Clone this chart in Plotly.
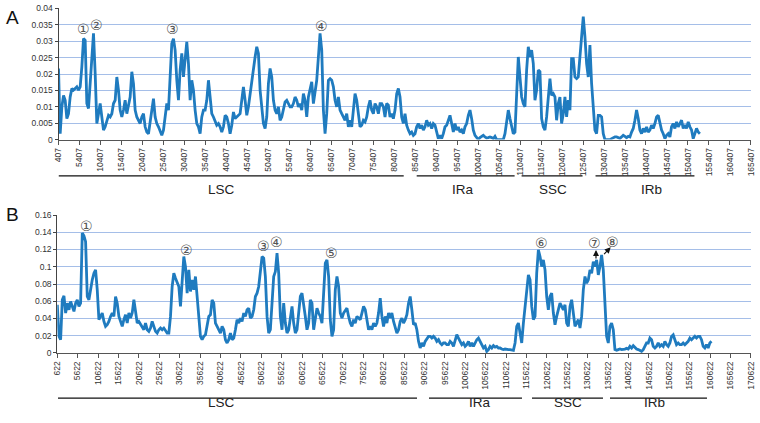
import plotly.graph_objects as go

# ---------------- data ----------------
# Panel A: nucleotide diversity (Pi), sliding windows starting at 407 bp
PI_A = [
0.0217,0.0018,0.0100,0.0135,0.0120,0.0064,0.0079,0.0130,0.0156,0.0151,
0.0156,0.0161,0.0151,0.0161,0.0222,0.0308,0.0303,0.0110,0.0095,0.0171,
0.0242,0.0324,0.0202,0.0049,0.0079,0.0110,0.0069,0.0029,0.0039,0.0059,
0.0074,0.0069,0.0079,0.0110,0.0120,0.0191,0.0151,0.0090,0.0069,0.0090,
0.0120,0.0079,0.0100,0.0130,0.0207,0.0171,0.0090,0.0069,0.0059,0.0049,
0.0069,0.0079,0.0039,0.0023,0.0018,0.0049,0.0090,0.0125,0.0069,0.0049,
0.0039,0.0023,0.0013,0.0029,0.0069,0.0110,0.0090,0.0181,0.0293,0.0308,
0.0273,0.0181,0.0120,0.0212,0.0263,0.0191,0.0237,0.0298,0.0232,0.0120,
0.0181,0.0151,0.0090,0.0049,0.0039,0.0018,0.0069,0.0090,0.0090,0.0120,
0.0181,0.0120,0.0079,0.0069,0.0059,0.0044,0.0049,0.0039,0.0023,0.0039,
0.0074,0.0069,0.0049,0.0018,0.0044,0.0084,0.0064,0.0069,0.0074,0.0079,
0.0120,0.0161,0.0120,0.0074,0.0100,0.0140,0.0171,0.0222,0.0252,0.0283,
0.0263,0.0151,0.0090,0.0049,0.0034,0.0069,0.0171,0.0217,0.0191,0.0120,
0.0090,0.0079,0.0100,0.0059,0.0069,0.0090,0.0115,0.0120,0.0110,0.0100,
0.0100,0.0110,0.0130,0.0120,0.0100,0.0110,0.0090,0.0140,0.0120,0.0069,
0.0130,0.0151,0.0176,0.0110,0.0151,0.0181,0.0252,0.0324,0.0273,0.0090,
0.0018,0.0079,0.0181,0.0186,0.0181,0.0161,0.0120,0.0100,0.0130,0.0090,
0.0079,0.0069,0.0059,0.0079,0.0039,0.0059,0.0039,0.0090,0.0140,0.0120,
0.0069,0.0039,0.0044,0.0059,0.0054,0.0069,0.0100,0.0120,0.0090,0.0079,
0.0110,0.0100,0.0079,0.0110,0.0110,0.0100,0.0069,0.0110,0.0105,0.0069,
0.0079,0.0064,0.0090,0.0140,0.0156,0.0130,0.0069,0.0049,0.0079,0.0044,
0.0029,0.0018,0.0023,0.0013,0.0018,0.0039,0.0049,0.0034,0.0044,0.0029,
0.0039,0.0059,0.0044,0.0049,0.0034,0.0049,0.0044,0.0023,0.0003,0.0013,
0.0003,0.0018,0.0039,0.0044,0.0059,0.0074,0.0049,0.0023,0.0049,0.0029,
0.0039,0.0023,0.0029,0.0018,0.0039,0.0049,0.0074,0.0090,0.0064,0.0029,
0.0013,0.0008,0.0000,0.0006,0.0010,0.0013,0.0008,0.0005,0.0006,0.0008,
0.0006,0.0003,0.0010,0.0000,0.0000,0.0000,0.0000,0.0000,0.0018,0.0049,
0.0090,0.0064,0.0039,0.0018,0.0023,0.0120,0.0252,0.0191,0.0130,0.0110,
0.0100,0.0212,0.0283,0.0252,0.0273,0.0232,0.0120,0.0151,0.0212,0.0207,
0.0064,0.0039,0.0029,0.0069,0.0120,0.0186,0.0135,0.0140,0.0130,0.0059,
0.0110,0.0130,0.0049,0.0079,0.0130,0.0069,0.0120,0.0090,0.0247,0.0247,
0.0191,0.0186,0.0191,0.0247,0.0303,0.0375,0.0314,0.0232,0.0191,0.0288,
0.0171,0.0090,0.0029,0.0018,0.0074,0.0074,0.0069,0.0018,0.0000,0.0000,
0.0000,0.0000,0.0003,0.0006,0.0008,0.0008,0.0006,0.0004,0.0008,0.0013,
0.0010,0.0006,0.0010,0.0008,0.0023,0.0034,0.0059,0.0090,0.0064,0.0029,
0.0018,0.0034,0.0023,0.0039,0.0023,0.0029,0.0044,0.0034,0.0049,0.0069,
0.0074,0.0049,0.0029,0.0018,0.0003,0.0013,0.0018,0.0008,0.0039,0.0049,
0.0034,0.0054,0.0039,0.0049,0.0059,0.0034,0.0044,0.0034,0.0054,0.0039,
0.0029,0.0003,0.0023,0.0034,0.0023,0.0018,
]
START_A, STEP_A = 407, 397

# Panel B: nucleotide diversity (Pi), sliding windows starting at 622 bp
PI_B = [
0.0559,0.0193,0.0154,0.0617,0.0663,0.0463,0.0578,0.0501,0.0598,0.0540,
0.0482,0.0578,0.0617,0.0540,0.0578,0.1390,0.1360,0.1290,0.0655,0.0617,
0.0752,0.0848,0.0925,0.0964,0.0732,0.0386,0.0424,0.0463,0.0366,0.0308,
0.0328,0.0366,0.0424,0.0463,0.0424,0.0655,0.0578,0.0424,0.0366,0.0308,
0.0386,0.0443,0.0347,0.0463,0.0405,0.0463,0.0617,0.0501,0.0347,0.0366,
0.0328,0.0308,0.0270,0.0347,0.0270,0.0251,0.0289,0.0366,0.0308,0.0251,
0.0231,0.0270,0.0289,0.0270,0.0289,0.0251,0.0231,0.0231,0.0424,0.0771,
0.0925,0.0867,0.0810,0.0771,0.0540,0.0887,0.1118,0.1002,0.0694,0.0964,
0.0713,0.0848,0.0732,0.0887,0.0655,0.0347,0.0193,0.0154,0.0193,0.0212,
0.0308,0.0424,0.0443,0.0617,0.0578,0.0347,0.0308,0.0270,0.0231,0.0308,
0.0270,0.0154,0.0116,0.0154,0.0231,0.0154,0.0173,0.0270,0.0386,0.0347,
0.0405,0.0366,0.0463,0.0424,0.0501,0.0520,0.0405,0.0424,0.0501,0.0655,
0.0694,0.0771,0.0964,0.1118,0.1099,0.0887,0.0424,0.0231,0.0270,0.0617,
0.0887,0.0944,0.1157,0.0925,0.0424,0.0270,0.0578,0.0347,0.0231,0.0270,
0.0424,0.0540,0.0347,0.0231,0.0270,0.0463,0.0655,0.0694,0.0578,0.0424,
0.0270,0.0347,0.0617,0.0578,0.0270,0.0424,0.0520,0.0463,0.0424,0.0347,
0.0732,0.1041,0.1079,0.0887,0.0386,0.0193,0.0270,0.0732,0.0887,0.0771,
0.0463,0.0405,0.0463,0.0501,0.0520,0.0424,0.0347,0.0308,0.0386,0.0347,
0.0424,0.0405,0.0386,0.0463,0.0540,0.0501,0.0366,0.0270,0.0308,0.0270,
0.0347,0.0308,0.0347,0.0463,0.0636,0.0424,0.0308,0.0424,0.0347,0.0463,
0.0405,0.0463,0.0366,0.0289,0.0231,0.0270,0.0366,0.0405,0.0347,0.0386,
0.0443,0.0578,0.0655,0.0501,0.0328,0.0347,0.0270,0.0135,0.0058,0.0116,
0.0077,0.0135,0.0173,0.0193,0.0193,0.0173,0.0193,0.0173,0.0135,0.0154,
0.0116,0.0096,0.0116,0.0116,0.0096,0.0096,0.0135,0.0116,0.0077,0.0135,
0.0212,0.0173,0.0135,0.0096,0.0116,0.0077,0.0096,0.0135,0.0077,0.0116,
0.0077,0.0116,0.0154,0.0173,0.0135,0.0096,0.0058,0.0077,0.0019,0.0039,
0.0077,0.0058,0.0085,0.0069,0.0077,0.0058,0.0058,0.0046,0.0039,0.0046,
0.0039,0.0039,0.0039,0.0039,0.0031,0.0116,0.0308,0.0347,0.0231,0.0116,
0.0347,0.0540,0.0694,0.0906,0.0848,0.0540,0.0386,0.0424,0.0925,0.1195,
0.1118,0.1002,0.1079,0.0964,0.0655,0.0501,0.0655,0.0694,0.0463,0.0328,
0.0424,0.0501,0.0578,0.0540,0.0501,0.0559,0.0347,0.0308,0.0540,0.0617,
0.0463,0.0308,0.0347,0.0386,0.0289,0.0424,0.0732,0.0887,0.0810,0.0848,
0.0964,0.0925,0.1060,0.1002,0.1079,0.0906,0.1002,0.1137,0.0964,0.0578,
0.0193,0.0116,0.0308,0.0347,0.0270,0.0039,0.0031,0.0039,0.0046,0.0039,
0.0039,0.0046,0.0054,0.0046,0.0077,0.0058,0.0085,0.0058,0.0046,0.0039,
0.0031,0.0019,0.0039,0.0077,0.0116,0.0116,0.0173,0.0154,0.0077,0.0058,
0.0077,0.0116,0.0077,0.0096,0.0077,0.0135,0.0096,0.0077,0.0116,0.0193,
0.0212,0.0154,0.0096,0.0116,0.0096,0.0096,0.0116,0.0096,0.0116,0.0135,
0.0173,0.0154,0.0173,0.0193,0.0173,0.0193,0.0193,0.0154,0.0077,0.0058,
0.0096,0.0058,0.0116,0.0135,
]
START_B, STEP_B = 622, 408

POS_A = [START_A + STEP_A * i for i in range(len(PI_A))]
POS_B = [START_B + STEP_B * i for i in range(len(PI_B))]

# axis ticks
XTICKS_A = list(range(407, 165408, 5000))
XTICKS_B = list(range(622, 170623, 5000))
YTICKS_A = [0, 0.005, 0.01, 0.015, 0.02, 0.025, 0.03, 0.035, 0.04]
YTEXT_A = ["0", "0.005", "0.01", "0.015", "0.02", "0.025", "0.03", "0.035", "0.04"]
YTICKS_B = [0, 0.02, 0.04, 0.06, 0.08, 0.1, 0.12, 0.14, 0.16]
YTEXT_B = ["0", "0.02", "0.04", "0.06", "0.08", "0.1", "0.12", "0.14", "0.16"]

# genome regions (bp spans) and label anchors
REGIONS = ["LSC", "IRa", "SSC", "IRb"]
REG_START_A = [407, 85764, 110764, 128383]
REG_END_A = [82669, 109097, 125288, 151955]
REG_LABEL_A = [39336, 96717, 118145, 141717]
REG_START_B = [794, 91725, 116970, 136088]
REG_END_B = [88784, 114519, 134372, 159862]
REG_LABEL_B = [40745, 104225, 125794, 147117]

# highly variable peaks (circled numbers)
PEAK_TXT_A = ["①", "②", "③", "④", "⑤"]
PEAK_X_A = [6478, 9574, 27669, 63145, 125526]
PEAK_Y_A = [0.0337, 0.0350, 0.0337, 0.0347, 0.0405]
PEAK_TXT_B = ["①", "②", "③", "④", "⑤", "⑥", "⑦", "⑧"]
PEAK_X_B = [7800, 32166, 51284, 54470, 67950, 119421, 132411, 136823]
PEAK_Y_B = [0.147, 0.1194, 0.124, 0.1287, 0.116, 0.1275, 0.1275, 0.1287]
# arrows for peaks 7 and 8 in B: (tail x, tail y, head x, head y)
ARROWS_B = [(132656, 0.1078, 132656, 0.1194), (134298, 0.1128, 136259, 0.1226)]

# ---------------- figure ----------------
LINE_COLOR = "#1f7bbf"
GRID = "#a5bee8"
FONT = "Liberation Sans, Arial, sans-serif"

fig = go.Figure()
fig.add_trace(go.Scatter(x=POS_A, y=PI_A, mode="lines", xaxis="x", yaxis="y",
                         line=dict(color=LINE_COLOR, width=2.8), showlegend=False))
fig.add_trace(go.Scatter(x=POS_B, y=PI_B, mode="lines", xaxis="x2", yaxis="y2",
                         line=dict(color=LINE_COLOR, width=2.8), showlegend=False))

def xax(domain, rng, ticks, anchor):
    return dict(domain=domain, range=rng, tickvals=ticks, ticktext=[str(t) for t in ticks],
                tickangle=-90, tickfont=dict(size=8.5, color="#333", family=FONT),
                showgrid=False, zeroline=False, showline=True, linecolor="#555", linewidth=1,
                ticks="outside", ticklen=4, tickcolor="#555", anchor=anchor, automargin=False)

def yax(domain, rng, ticks, text, anchor):
    return dict(domain=domain, range=rng, tickvals=ticks, ticktext=text,
                tickfont=dict(size=8.5, color="#333", family=FONT),
                showgrid=True, gridcolor=GRID, gridwidth=1.2, zeroline=False,
                showline=True, linecolor="#444", linewidth=1,
                ticks="outside", ticklen=3, tickcolor="#444", anchor=anchor, automargin=False)

fig.update_layout(
    width=760, height=423, margin=dict(l=0, r=0, t=0, b=0, autoexpand=False),
    paper_bgcolor="white", plot_bgcolor="white",
    xaxis=xax([0.077, 0.988], [407, 165407], XTICKS_A, "y"),
    yaxis=yax([0.670, 0.980], [0, 0.04], YTICKS_A, YTEXT_A, "x"),
    xaxis2=xax([0.0754, 0.988], [622, 170622], XTICKS_B, "y2"),
    yaxis2=yax([0.1655, 0.4917], [0, 0.16], YTICKS_B, YTEXT_B, "x2"),
)

shapes = []
annotations = []
for xs, xe, xl, name, ly, ty, xr in (
    [(REG_START_A[i], REG_END_A[i], REG_LABEL_A[i], REGIONS[i], 0.584, 0.551, "x") for i in range(4)]
    + [(REG_START_B[i], REG_END_B[i], REG_LABEL_B[i], REGIONS[i], 0.059, 0.026, "x2") for i in range(4)]
):
    shapes.append(dict(type="line", xref=xr, yref="paper", x0=xs, x1=xe, y0=ly, y1=ly,
                       line=dict(color="#111", width=1.3)))
    annotations.append(dict(x=xl, y=ty, xref=xr, yref="paper", text=name, showarrow=False,
                            font=dict(size=13.5, color="#222", family=FONT)))

for t, x, y in zip(PEAK_TXT_A, PEAK_X_A, PEAK_Y_A):
    annotations.append(dict(x=x, y=y, xref="x", yref="y", text=t, showarrow=False,
                            font=dict(size=14, color="#555", family="DejaVu Sans")))
for t, x, y in zip(PEAK_TXT_B, PEAK_X_B, PEAK_Y_B):
    annotations.append(dict(x=x, y=y, xref="x2", yref="y2", text=t, showarrow=False,
                            font=dict(size=14, color="#555", family="DejaVu Sans")))
for tx, ty_, hx, hy in ARROWS_B:
    annotations.append(dict(x=hx, y=hy, ax=tx, ay=ty_, xref="x2", yref="y2",
                            axref="x2", ayref="y2", text="", showarrow=True,
                            arrowhead=2, arrowsize=1, arrowwidth=1.2, arrowcolor="#111"))

annotations.append(dict(x=12 / 760, y=1 - 18 / 423, xref="paper", yref="paper", text="A",
                        xanchor="center", yanchor="middle",
                        showarrow=False, font=dict(size=19, color="#111", family=FONT)))
annotations.append(dict(x=12 / 760, y=1 - 215 / 423, xref="paper", yref="paper", text="B",
                        xanchor="center", yanchor="middle",
                        showarrow=False, font=dict(size=19, color="#111", family=FONT)))

fig.update_layout(shapes=shapes, annotations=annotations)
fig.write_html("out.html", config={"displayModeBar": False},
               post_script="document.body.style.margin='0px';document.body.style.overflow='hidden';")
